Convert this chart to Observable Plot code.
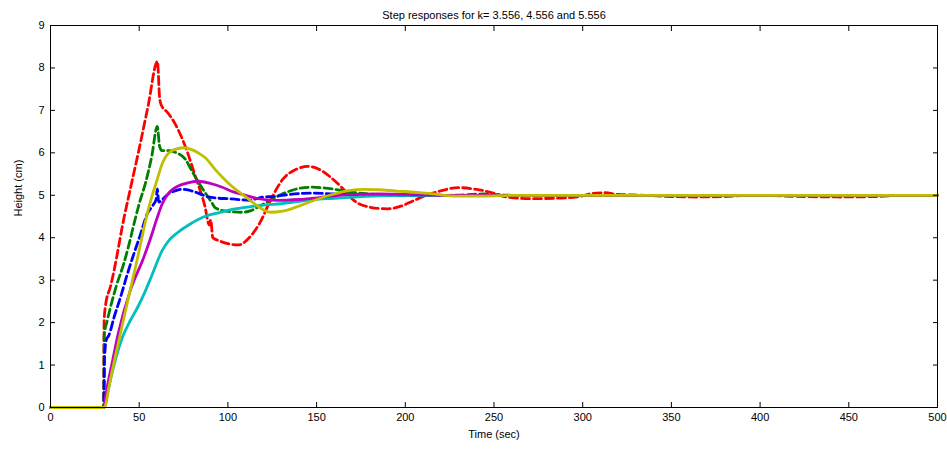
<!DOCTYPE html>
<html><head><meta charset="utf-8">
<script src="https://cdn.jsdelivr.net/npm/d3@7"></script>
<script src="https://cdn.jsdelivr.net/npm/@observablehq/plot@0.6"></script>
<style>body{margin:0;background:#fff;} svg{display:block;}</style>
</head><body><div id="chart"></div>
<script>
const titleText = "Step responses for k= 3.556, 4.556 and 5.556";
const xLabel = "Time (sec)";
const yLabel = "Height (cm)";
const xTicks = [0, 50, 100, 150, 200, 250, 300, 350, 400, 450, 500];
const yTicks = [0, 1, 2, 3, 4, 5, 6, 7, 8, 9];

// [time, height]
const redPts = [[0,0],[30,0],[30.2,2.0],[31,2.4],[33.8,2.85],[35.7,3.2],[38,3.7],[40.4,4.25],[45,5.15],[50,6.1],[55,7.1],[60.3,8.15],[61.5,7.3],[62.5,7.12],[66,6.95],[70,6.7],[76,6.15],[82,5.4],[87,4.75],[89.5,4.3],[90.3,4.42],[91.5,4.0],[95,3.93],[100,3.86],[106,3.83],[112,4.0],[118,4.35],[124,4.88],[131,5.38],[138,5.6],[145,5.68],[152,5.6],[158,5.42],[165,5.15],[171,4.88],[180,4.72],[190,4.68],[198,4.75],[205,4.88],[212,5.0],[218,5.08],[230,5.18],[240,5.14],[248,5.07],[257,4.96],[270,4.92],[285,4.93],[297,4.96],[305,5.04],[312,5.06],[320,5.02],[335,5.0],[350,4.97],[365,4.96],[380,4.97],[395,5.0],[425,4.97],[445,4.96],[466,4.97],[480,5.0],[500,5.0]];
const greenPts = [[0,0],[30,0],[30.3,1.7],[32,2.05],[33.8,2.36],[37,2.85],[41.3,3.39],[44,3.8],[47.5,4.4],[50,4.8],[53.6,5.3],[57,5.9],[60.2,6.62],[61.5,6.15],[63,6.05],[67,6.05],[71,6.0],[76,5.85],[80,5.55],[85,5.2],[89,4.95],[91,4.82],[93,4.7],[100,4.62],[108,4.6],[113,4.64],[118,4.75],[124,4.88],[130,5.02],[135,5.1],[141,5.17],[147,5.19],[155,5.17],[163,5.12],[172,5.06],[180,5.03],[200,5.0],[225,5.0],[244,5.03],[260,5.0],[500,5.0]];
const bluePts = [[0,0],[30,0],[30.5,1.2],[31.5,1.6],[32.9,1.7],[36,2.15],[39.5,2.6],[43,3.1],[47,3.62],[50.5,4.05],[54.5,4.56],[58,4.78],[59.5,4.9],[60.2,5.15],[61,4.84],[63,4.9],[66.7,5.04],[70,5.1],[74,5.14],[78,5.12],[82,5.07],[89,4.96],[95,4.93],[100,4.92],[106,4.9],[112,4.88],[116,4.92],[120,4.96],[125,4.97],[135,5.02],[147,5.05],[160,5.03],[180,5.01],[200,5.0],[500,5.0]];
const cyanPts = [[0,0],[30,0],[31,0.1],[32.5,0.4],[35.5,0.95],[41,1.7],[45,2.05],[49,2.35],[53,2.7],[57,3.1],[63,3.7],[67,3.95],[71,4.1],[79,4.33],[87,4.5],[94,4.58],[104,4.68],[111,4.72],[120,4.77],[130,4.8],[148,4.9],[160,4.93],[175,4.97],[200,5.0],[500,5.0]];
const magentaPts = [[0,0],[30,0],[31,0.25],[32.5,0.6],[34.5,1.0],[38.5,1.8],[45,2.76],[52.6,3.54],[56.5,4.0],[60.2,4.48],[63,4.8],[66,5.02],[72,5.22],[78,5.3],[83.6,5.33],[90,5.28],[96.8,5.19],[103,5.08],[110,5.0],[116,4.93],[122,4.89],[128,4.88],[140,4.9],[155,4.96],[169,5.02],[185,5.03],[200,5.02],[230,5.0],[500,5.0]];
const yellowPts = [[0,0],[30,0],[31,0.05],[33,0.5],[36,1.1],[40,1.85],[44,2.6],[47.5,3.23],[51,3.9],[53.6,4.4],[57,4.95],[60,5.35],[63,5.75],[66,5.97],[70,6.08],[75,6.12],[80,6.07],[84,5.98],[87.4,5.88],[93,5.6],[98.7,5.35],[104,5.15],[110,4.96],[115,4.8],[120,4.66],[124,4.6],[130,4.62],[135,4.67],[141,4.76],[150,4.9],[159.8,5.03],[168,5.11],[176.7,5.14],[185,5.13],[195,5.1],[206.8,5.07],[218,5.02],[229,4.98],[245,4.98],[260,5.0],[500,5.0]];

const seriesList = [
  {pts: redPts, color: "#ff0000", dash: "8,4"},
  {pts: greenPts, color: "#007f00", dash: "8,4"},
  {pts: bluePts, color: "#0000ff", dash: "8,4"},
  {pts: cyanPts, color: "#00bfbf", dash: null},
  {pts: magentaPts, color: "#bf00bf", dash: null},
  {pts: yellowPts, color: "#bfbf00", dash: null}
];

const lineMarks = seriesList.map(s => Plot.line(s.pts, {
  x: d => d[0], y: d => d[1], stroke: s.color, strokeWidth: 2.8,
  strokeDasharray: s.dash, curve: "monotone-x", strokeLinejoin: "round"
}));

const chart = Plot.plot({
  width: 947, height: 450,
  marginLeft: 50, marginRight: 10, marginTop: 25, marginBottom: 43,
  style: {fontFamily: "'Liberation Sans', Arial, sans-serif", fontSize: "11px", color: "#000", background: "#fff"},
  x: {domain: [0, 500]},
  y: {domain: [0, 9]},
  marks: [
    ...lineMarks,
    Plot.frame({stroke: "#000", strokeWidth: 1}),
    Plot.axisX({ticks: xTicks, tickSize: -5, tickPadding: 11, label: null}),
    Plot.axisX({anchor: "top", ticks: xTicks, tickSize: -5, tickFormat: () => "", label: null}),
    Plot.axisY({ticks: yTicks, tickSize: -5, tickPadding: 11, label: null}),
    Plot.axisY({anchor: "right", ticks: yTicks, tickSize: -5, tickFormat: () => "", label: null}),
    Plot.text([titleText], {frameAnchor: "top", dy: -14, fontSize: 11, fill: "#000"}),
    Plot.text([xLabel], {frameAnchor: "bottom", dy: 30, fontSize: 11, fill: "#000"}),
    Plot.text([yLabel], {frameAnchor: "left", dx: -32, rotate: -90, fontSize: 11, fill: "#000"})
  ]
});
document.getElementById("chart").appendChild(chart);
</script>
</body></html>
